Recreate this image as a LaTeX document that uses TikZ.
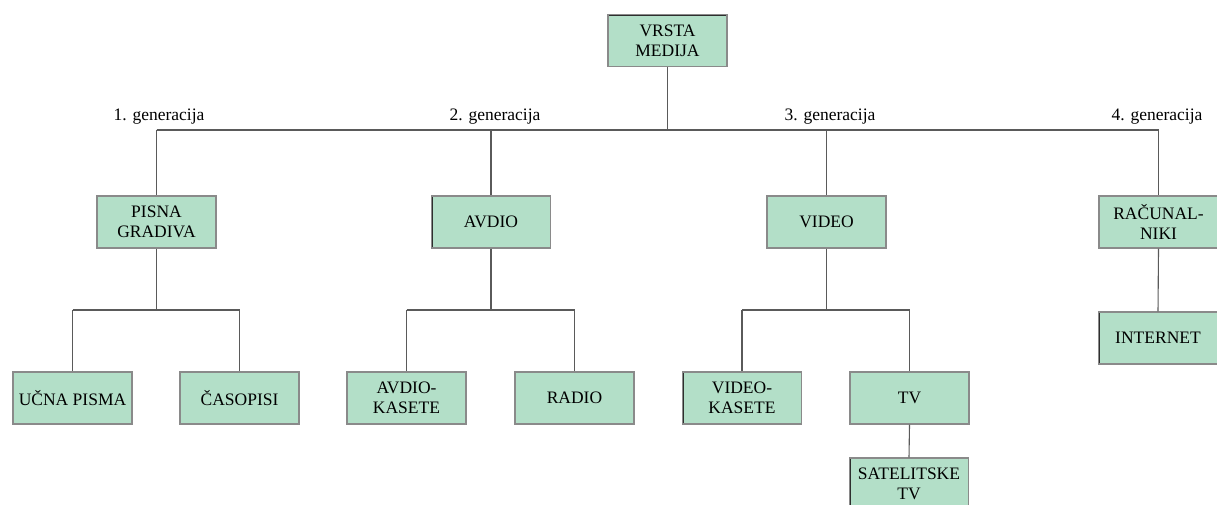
\documentclass[tikz,border=0pt]{standalone}
\usepackage{fontspec}
\setmainfont{Liberation Serif}
\definecolor{boxfill}{HTML}{B3DFC8}
\definecolor{lineg}{HTML}{5A5A5A}
\definecolor{edgedark}{HTML}{2E2E2E}
\definecolor{edgelight}{HTML}{8A8A8A}
\tikzset{
  box/.style={draw=edgelight, fill=boxfill, line width=1.2pt, minimum width=119pt, minimum height=52pt,
    inner sep=0pt, align=center, font=\fontsize{17.5}{20}\selectfont,
    path picture={\draw[edgedark, line width=2.2pt]
      (path picture bounding box.south west) -- (path picture bounding box.north west)
      -- (path picture bounding box.north east);}},
  conn/.style={draw=lineg, line width=1.1pt},
  gen/.style={font=\fontsize{17.5}{20}\selectfont, anchor=base, inner sep=0pt}
}
\begin{document}
\begin{tikzpicture}[x=1pt,y=-1pt]
\useasboundingbox (0,0) rectangle (1217,505);
% boxes
\node[box] (root) at (667.5,40.5) {VRSTA\\MEDIJA};
\node[box] (pisna) at (156.5,222) {PISNA\\GRADIVA};
\node[box] (avdio) at (491,222) {AVDIO};
\node[box] (video) at (826.5,222) {VIDEO};
\node[box] (racun) at (1158.5,222) {RAČUNAL-\\NIKI};
\node[box] (ucna) at (72.5,398) {UČNA PISMA};
\node[box] (casop) at (239.5,398) {ČASOPISI};
\node[box] (akas) at (406.5,398) {AVDIO-\\KASETE};
\node[box] (radio) at (574.5,398) {RADIO};
\node[box] (vkas) at (742,398) {VIDEO-\\KASETE};
\node[box] (tv) at (909.5,398) {TV};
\node[box] (sat) at (909,484) {SATELITSKE\\TV};
\node[box] (inet) at (1158,338) {INTERNET};
% generation labels
\node[gen] (l1) at (159,121) {1. generacija};
\node[gen] (l2) at (495,121) {2. generacija};
\node[gen] (l3) at (830,121) {3. generacija};
\node[gen] (l4) at (1157,121) {4. generacija};
% junctions
\coordinate (bus) at (668,130);
\coordinate (jp) at (156.5,310);
\coordinate (ja) at (491,310);
\coordinate (jv) at (826.5,310);
% connectors
\draw[conn] (root.south) -- (root.south |- bus);
\draw[conn] (pisna.north |- bus) -- (racun.north |- bus);
\foreach \n in {pisna,avdio,video,racun} \draw[conn] (\n.north |- bus) -- (\n.north);
\draw[conn] (pisna.south) -- (jp);
\draw[conn] (ucna.north |- jp) -- (casop.north |- jp);
\draw[conn] (ucna.north |- jp) -- (ucna.north);
\draw[conn] (casop.north |- jp) -- (casop.north);
\draw[conn] (avdio.south) -- (ja);
\draw[conn] (akas.north |- ja) -- (radio.north |- ja);
\draw[conn] (akas.north |- ja) -- (akas.north);
\draw[conn] (radio.north |- ja) -- (radio.north);
\draw[conn] (video.south) -- (jv);
\draw[conn] (vkas.north |- jv) -- (tv.north |- jv);
\draw[conn] (vkas.north |- jv) -- (vkas.north);
\draw[conn] (tv.north |- jv) -- (tv.north);
\draw[conn] (tv.south) -- (sat.north);
\draw[conn] (racun.south) -- (inet.north);
\end{tikzpicture}
\end{document}
